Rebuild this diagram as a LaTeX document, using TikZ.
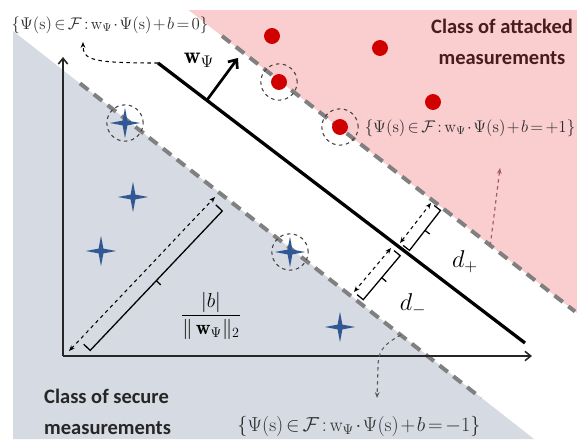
\documentclass[tikz,border=0pt]{standalone}
\usepackage{amsmath}
\usepackage{amssymb}
\usepackage{fontspec}
\newfontfamily\classfont{Carlito}
\usepackage{xcolor}
\usepackage{tikz}
\usetikzlibrary{arrows.meta, shapes.geometric, calc}

\definecolor{secbg}{RGB}{214,218,226}
\definecolor{attbg}{RGB}{250,205,207}
\definecolor{attdot}{RGB}{208,0,0}
\definecolor{secstar}{RGB}{48,88,148}
\definecolor{margray}{RGB}{128,128,128}
\definecolor{setink}{RGB}{45,45,45}
\definecolor{attink}{RGB}{70,28,28}
\definecolor{ptrred}{RGB}{160,95,95}

\begin{document}
\begin{tikzpicture}[x=0.03cm, y=-0.03cm,
  marline/.style = {draw=margray, line width=3.4pt, dash pattern=on 9pt off 6pt},
  hyper/.style   = {line width=2.8pt},
  axisln/.style  = {-{Straight Barb[length=5pt,width=8pt]}, line width=1.3pt, draw=black!85},
  ptr/.style     = {-{Stealth[length=5pt,width=4pt]}, dashed, line width=0.9pt},
  dgap/.style    = {{Stealth[length=5pt,width=4pt]}-{Stealth[length=5pt,width=4pt]},
                    dashed, line width=0.9pt},
  brk/.style     = {line width=1.1pt},
  attpt/.style   = {circle, fill=attdot, minimum size=13.6pt, inner sep=0pt},
  secpt/.style   = {star, star points=4, star point ratio=4.5, fill=secstar,
                    minimum size=26pt, inner sep=0pt},
  ring/.style    = {circle, draw=black!75, dashed, line width=0.9pt,
                    minimum size=31pt, inner sep=0pt},
  setlab/.style  = {text=setink, inner sep=0pt,
                    execute at begin node={\medmuskip=1.5mu\thickmuskip=2.5mu}},
  classlab/.style = {font=\classfont\bfseries\fontsize{17.5}{26}\selectfont, inner sep=0pt},
]

%% ── regions ────────────────────────────────────────────────────────────────
\useasboundingbox (0,0) rectangle (577,439);
\fill[white]  (0,0) rectangle (577,439);
\fill[attbg]  (188.5,10) -- (577,10) -- (577,313) -- cycle;
\fill[secbg]  (13,31) -- (534,439) -- (13,439) -- cycle;

%% ── margins, hyperplane, axes ──────────────────────────────────────────────
\coordinate (upA) at (222,36);  \coordinate (upB) at (575,311.5);
\coordinate (loA) at (80,83.4); \coordinate (loB) at (481,398);
\draw[marline] (upA) -- (upB);
\draw[marline] (loA) -- (loB);

\coordinate (orig) at (63,356);
\coordinate (xend) at (532,356);
\coordinate (yend) at (63,57);
\draw[axisln] (orig) -- (xend);
\draw[axisln] (orig) -- (yend);

\coordinate (hypA) at (158,63);
\coordinate (hypB) at (525,343);
\draw[hyper] (hypA) -- (hypB);

\coordinate (wfoot) at (207,100);
\coordinate (wtip)  at (238,58);
\draw[hyper, line width=2.3pt, -{Straight Barb[length=6pt,width=10pt]}] (wfoot) -- (wtip);
\node[font=\fontsize{20}{24}\selectfont] (wlab) at (199,60) {$\mathbf{w}_{\Psi}$};

%% ── measurements ───────────────────────────────────────────────────────────
\node[attpt] (att1) at (272,36)  {};
\node[attpt] (att2) at (380,48)  {};
\node[attpt] (att3) at (433,102) {};
\node[attpt] (att4) at (279,82)  {};
\node[attpt] (att5) at (340,127) {};
\node[ring]  (ringa) at (att4) {};
\node[ring]  (ringb) at (att5) {};

\node[secpt] (sec1) at (125,123) {};
\node[secpt] (sec2) at (133,197) {};
\node[secpt] (sec3) at (101,251) {};
\node[secpt] (sec4) at (290,252) {};
\node[secpt] (sec5) at (340,327) {};
\node[ring]  (ringc) at (sec1) {};
\node[ring]  (ringd) at (sec4) {};

%% ── distances ──────────────────────────────────────────────────────────────
\coordinate (bA) at (69,351);  \coordinate (bB) at (215,197);
\draw[dgap] (bA) -- (bB);
\draw[brk] (83.7,344.2) -- (90.2,350.4) -- (222.3,211) -- (215.8,204.8);
\draw[brk] (156.3,280.7) -- (160.7,284.8);
\node[font=\fontsize{17.5}{20}\selectfont] (blab) at (211,316)
  {$\dfrac{|b|}{\|\,\mathbf{w}_{\Psi}\|_2}$};

\coordinate (dpA) at (400,243); \coordinate (dpB) at (431,203);
\draw[dgap] (dpA) -- (dpB);
\draw[brk] (403.2,245.5) -- (409.5,250.4) -- (440.5,210.4) -- (434.2,205.5);
\draw[brk] (425,230.4) -- (429.7,234);
\node[font=\fontsize{20}{24}\selectfont] (dplab) at (465,262) {$d_+$};

\coordinate (dmA) at (391,248); \coordinate (dmB) at (354,292);
\draw[dgap] (dmA) -- (dmB);
\draw[brk] (394.1,250.6) -- (400.2,255.7) -- (363.2,299.7) -- (357.1,294.6);
\draw[brk] (381.7,277.7) -- (386.3,281.6);
\node[font=\fontsize{20}{24}\selectfont] (dmlab) at (413,305) {$d_-$};

%% ── set labels ─────────────────────────────────────────────────────────────
\node[setlab, font=\fontsize{13.8}{16}\selectfont] (lab0) at (110,25)
  {$\{\Psi(\mathrm{s})\in\mathcal{F}:\mathrm{w}_{\Psi}\cdot\Psi(\mathrm{s})+b=0\}$};
\node[setlab, font=\fontsize{14.2}{17}\selectfont] (labp) at (470,128)
  {$\{\Psi(\mathrm{s})\in\mathcal{F}:\mathrm{w}_{\Psi}\cdot\Psi(\mathrm{s})+b=+1\}$};
\node[setlab, font=\fontsize{16.5}{19}\selectfont] (labm) at (359,426)
  {$\{\Psi(\mathrm{s})\in\mathcal{F}:\mathrm{w}_{\Psi}\cdot\Psi(\mathrm{s})+b=-1\}$};

\coordinate (tip0) at (83,42);
\draw[ptr] (hypA) .. controls (92,63) and (83,60) .. (tip0);

\coordinate (footp) at ($(upA)!0.76!(upB)$);
\coordinate (tipp)  at (500,168);
\draw[ptr, ptrred, line width=1pt] (footp) -- (tipp);

\coordinate (footm) at ($(loA)!0.8!(loB)$);
\coordinate (tipm)  at (377,398);
\draw[ptr, black!65] (footm) .. controls (382,345) and (378,352) .. (378,368) -- (tipm);

%% ── class names ────────────────────────────────────────────────────────────
\node[classlab, text=attink, align=center] (attcls) at (502,42)
  {Class of attacked\\measurements};
\node[classlab, text=black!85, align=left, anchor=west] (seccls) at (44,412)
  {Class of secure\\measurements};

\end{tikzpicture}
\end{document}
